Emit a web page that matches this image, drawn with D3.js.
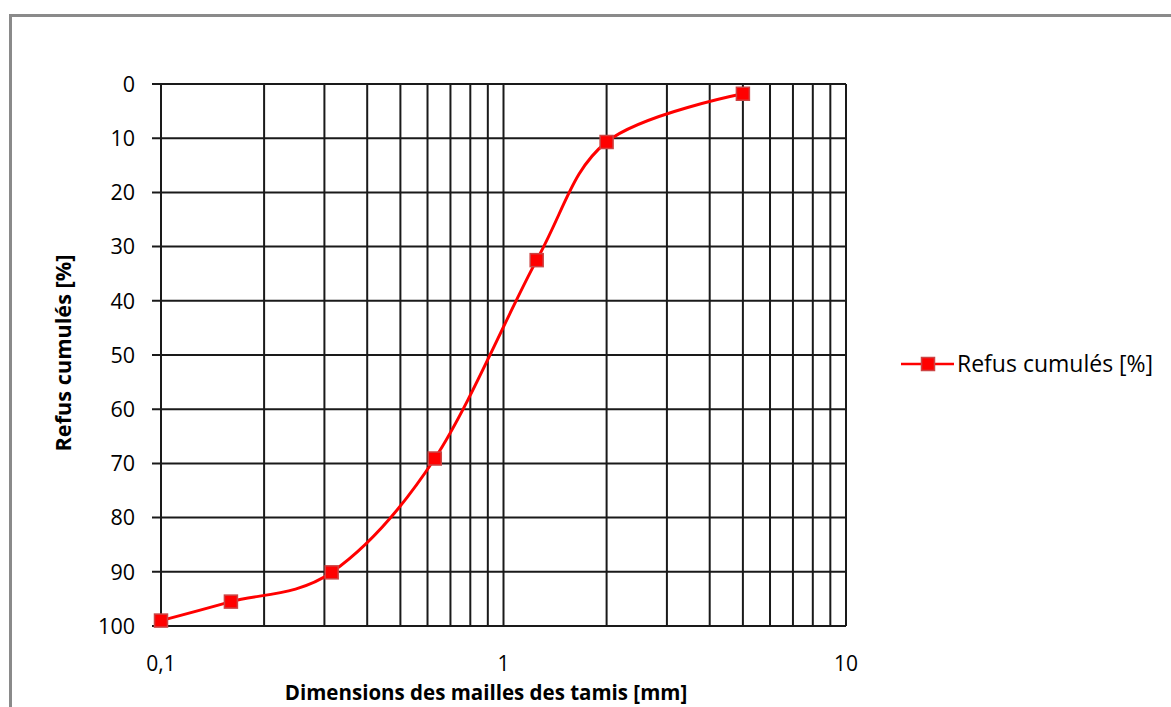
<!DOCTYPE html>
<html><head><meta charset="utf-8">
<script src="https://cdn.jsdelivr.net/npm/d3@7"></script>
<style>body{margin:0;background:#fff}svg{display:block}text{font-family:"Open Sans",sans-serif;fill:#000}</style>
</head><body>
<svg id="c" width="1171" height="707"></svg>
<script>
const sieveSizes = [0.1, 0.16, 0.315, 0.63, 1.25, 2, 5];
const cumulativeRetained = [99, 95.5, 90.1, 69.1, 32.5, 10.7, 1.8];
const yTicks = [0,10,20,30,40,50,60,70,80,90,100];
const xTickValues = [0.1, 1, 10];
const xTickLabels = ["0,1", "1", "10"];
const seriesName = "Refus cumulés [%]";
const xTitle = "Dimensions des mailles des tamis [mm]";
const yTitle = "Refus cumulés [%]";

const svg = d3.select("#c");
svg.append("rect").attr("x",10.5).attr("y",15.5).attr("width",1200).attr("height",720)
  .attr("fill","none").attr("stroke","#8a8a8a").attr("stroke-width",3);

const L=161, R=846, T=84, B=626;
const x = d3.scaleLog().domain([0.1,10]).range([L,R]);
const y = d3.scaleLinear().domain([0,100]).range([T,B]);

const g = svg.append("g");
const minor = [];
for (let d of [0.1,1]) for (let k=1;k<=9;k++) minor.push(+(d*k).toFixed(3));
minor.push(10);
g.selectAll("line.v").data(minor).join("line")
  .attr("x1",d=>x(d)).attr("x2",d=>x(d)).attr("y1",T).attr("y2",B)
  .attr("stroke","#1a1a1a").attr("stroke-width",2);
g.selectAll("line.h").data(yTicks).join("line")
  .attr("x1",L-9).attr("x2",R).attr("y1",d=>y(d)).attr("y2",d=>y(d))
  .attr("stroke","#1a1a1a").attr("stroke-width",2);

g.selectAll("text.yt").data(yTicks).join("text")
  .attr("x",135).attr("y",d=>y(d)).attr("dy","0.36em").attr("text-anchor","end")
  .attr("font-size",21.5).text(d=>d);
g.selectAll("text.xt").data(xTickValues).join("text")
  .attr("x",d=>x(d)).attr("y",671).attr("text-anchor","middle")
  .attr("font-size",21).text((d,i)=>xTickLabels[i]);

svg.append("text").attr("x",486).attr("y",700).attr("text-anchor","middle")
  .attr("font-size",20.5).attr("font-weight","bold").text(xTitle);
svg.append("text").attr("transform","translate(71,353) rotate(-90)").attr("text-anchor","middle")
  .attr("font-size",21.7).attr("font-weight","bold").text(yTitle);

const data = sieveSizes.map((s,i)=>({s, v:cumulativeRetained[i]}));
const line = d3.line().x(d=>x(d.s)).y(d=>y(d.v)).curve(d3.curveCardinal.tension(0));
svg.append("path").datum(data).attr("d",line).attr("fill","none")
  .attr("stroke","#ff0000").attr("stroke-width",3);
svg.selectAll("rect.m").data(data).join("rect")
  .attr("x",d=>x(d.s)-6.5).attr("y",d=>y(d.v)-6.5).attr("width",13).attr("height",13)
  .attr("fill","#ff0000").attr("stroke","#cc4444").attr("stroke-width",1.5);

const lg = svg.append("g");
lg.append("line").attr("x1",901).attr("x2",954).attr("y1",364).attr("y2",364)
  .attr("stroke","#ff0000").attr("stroke-width",2.5);
lg.append("rect").attr("x",921.5).attr("y",357.5).attr("width",13).attr("height",13)
  .attr("fill","#ff0000").attr("stroke","#cc4444").attr("stroke-width",1.5);
lg.append("text").attr("x",957).attr("y",364).attr("dy","0.36em").attr("font-size",23).text(seriesName);
</script>
</body></html>
